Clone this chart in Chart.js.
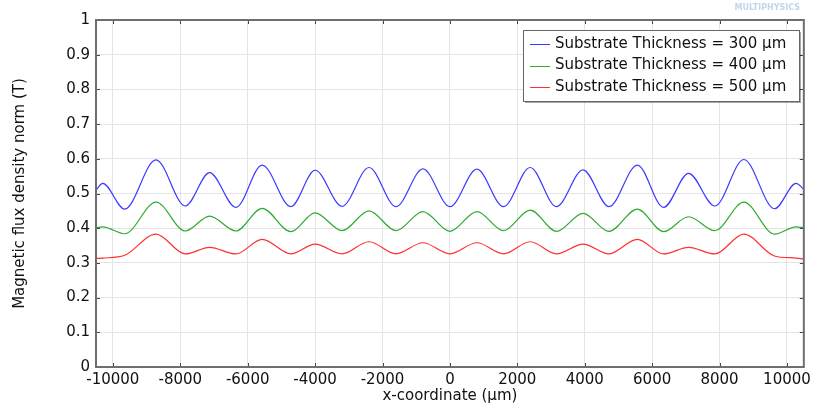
<!DOCTYPE html>
<html>
<head>
<meta charset="utf-8">
<script src="https://cdn.jsdelivr.net/npm/chart.js@4.4.1/dist/chart.umd.min.js"></script>
<style>
  html, body { margin: 0; padding: 0; background: #fff; }
  #wrap { width: 815px; height: 405px; }
</style>
</head>
<body>
<div id="wrap"><canvas id="flux"></canvas></div>
<script>
// x positions (µm) of the peaks and valleys along the line
const xCoords = [
  -10500, -10300, -9650, -8720, -7850, -7130, -6350, -5570, -4720, -4000,
  -3200, -2400, -1600, -800, 0, 800, 1590, 2380, 3160, 3950,
  4720, 5560, 6340, 7080, 7860, 8720, 9630, 10270, 10500
];
// |B| for 300 µm substrate
const flux300 = [
  0.510, 0.529, 0.455, 0.597, 0.464, 0.560, 0.460, 0.582, 0.462, 0.567,
  0.463, 0.575, 0.462, 0.571, 0.462, 0.570, 0.462, 0.575, 0.462, 0.568,
  0.462, 0.582, 0.460, 0.558, 0.464, 0.598, 0.456, 0.529, 0.512
];
// |B| for 400 µm substrate
const flux400 = [
  0.401, 0.404, 0.384, 0.475, 0.392, 0.435, 0.392, 0.457, 0.390, 0.444,
  0.393, 0.450, 0.393, 0.448, 0.391, 0.448, 0.393, 0.452, 0.391, 0.443,
  0.391, 0.455, 0.390, 0.433, 0.393, 0.475, 0.383, 0.404, 0.401
];
// |B| for 500 µm substrate
const flux500 = [
  0.313, 0.314, 0.322, 0.383, 0.326, 0.345, 0.326, 0.368, 0.326, 0.354,
  0.326, 0.361, 0.326, 0.358, 0.326, 0.358, 0.326, 0.361, 0.326, 0.354,
  0.326, 0.368, 0.326, 0.345, 0.326, 0.383, 0.320, 0.314, 0.311
];
const seriesLabels = [
  "Substrate Thickness = 300 µm",
  "Substrate Thickness = 400 µm",
  "Substrate Thickness = 500 µm"
];
const seriesColors = ["#3a3aff", "#30aa30", "#ff3030"];
const xTicks = [-10000, -8000, -6000, -4000, -2000, 0, 2000, 4000, 6000, 8000, 10000];
const yTicks = [0, 0.1, 0.2, 0.3, 0.4, 0.5, 0.6, 0.7, 0.8, 0.9, 1];

Chart.defaults.font.family = "'DejaVu Sans', sans-serif";
Chart.defaults.font.size = 15;
Chart.defaults.color = "#111";

function toPoints(values) {
  return values.map((v, i) => ({ x: xCoords[i], y: v }));
}

// frame, inward ticks, legend box and watermark
const framePlugin = {
  id: "frame",
  afterDraw(chart) {
    const ctx = chart.ctx;
    const a = chart.chartArea;
    const xs = chart.scales.x;
    const ys = chart.scales.y;
    ctx.save();

    // inward tick marks on all four sides
    ctx.strokeStyle = "#444";
    ctx.lineWidth = 1;
    ctx.beginPath();
    xTicks.forEach((t) => {
      const px = Math.round(xs.getPixelForValue(t)) + 0.5;
      ctx.moveTo(px, a.bottom); ctx.lineTo(px, a.bottom - 4);
      ctx.moveTo(px, a.top); ctx.lineTo(px, a.top + 4);
    });
    yTicks.forEach((t) => {
      const py = Math.round(ys.getPixelForValue(t)) + 0.5;
      ctx.moveTo(a.left, py); ctx.lineTo(a.left + 4, py);
      ctx.moveTo(a.right, py); ctx.lineTo(a.right - 4, py);
    });
    ctx.stroke();

    // plot frame
    ctx.strokeStyle = "#6e6e6e";
    ctx.lineWidth = 2;
    ctx.strokeRect(a.left, a.top, a.right - a.left, a.bottom - a.top);

    // legend box
    const bx = 523, by = 30, bw = 276, bh = 71;
    ctx.fillStyle = "rgba(0,0,0,0.35)";
    ctx.fillRect(bx + 2, by + 2, bw, bh);
    ctx.fillStyle = "#fff";
    ctx.fillRect(bx, by, bw, bh);
    ctx.strokeStyle = "#666";
    ctx.lineWidth = 1;
    ctx.strokeRect(bx + 0.5, by + 0.5, bw, bh);
    ctx.font = "15px 'DejaVu Sans'";
    ctx.textBaseline = "middle";
    ctx.textAlign = "left";
    chart.data.datasets.forEach((ds, i) => {
      const ry = by + 14 + i * 21.5;
      ctx.strokeStyle = ds.borderColor;
      ctx.beginPath();
      ctx.moveTo(bx + 7, Math.round(ry) + 0.5);
      ctx.lineTo(bx + 27, Math.round(ry) + 0.5);
      ctx.stroke();
      ctx.fillStyle = "#111";
      ctx.fillText(ds.label, bx + 32, ry);
    });

    // faint product mark in the corner
    ctx.fillStyle = "rgba(120,160,210,0.45)";
    ctx.font = "bold 8px 'DejaVu Sans'";
    ctx.textAlign = "right";
    ctx.fillText("MULTIPHYSICS", 800, 8);
    ctx.restore();
  }
};

new Chart(document.getElementById("flux"), {
  type: "line",
  data: {
    datasets: [flux300, flux400, flux500].map((vals, i) => ({
      label: seriesLabels[i],
      data: toPoints(vals),
      borderColor: seriesColors[i],
      borderWidth: 1.2,
      pointRadius: 0,
      fill: false,
      cubicInterpolationMode: "monotone"
    }))
  },
  options: {
    responsive: true,
    maintainAspectRatio: false,
    animation: false,
    layout: { padding: { left: 0, top: 20, right: 7, bottom: 0 } },
    plugins: {
      legend: { display: false },
      tooltip: { enabled: false }
    },
    scales: {
      x: {
        type: "linear",
        min: -10500,
        max: 10500,
        afterBuildTicks: (scale) => { scale.ticks = xTicks.map((v) => ({ value: v })); },
        afterFit: (scale) => { scale.height = 38; },
        grid: { color: "#e4e4e4", drawTicks: false },
        border: { display: false },
        ticks: { padding: 4, maxRotation: 0, autoSkip: false, callback: (v) => String(v) },
        title: { display: true, text: "x-coordinate (µm)", padding: { top: 0, bottom: 0 } }
      },
      y: {
        type: "linear",
        min: 0,
        max: 1,
        afterBuildTicks: (scale) => { scale.ticks = yTicks.map((v) => ({ value: v })); },
        afterFit: (scale) => { scale.width = 96; },
        grid: { color: "#e4e4e4", drawTicks: false },
        border: { display: false },
        ticks: { padding: 6, callback: (v) => String(v) },
        title: { display: true, text: "Magnetic flux density norm (T)", padding: { top: 11, bottom: 0 } }
      }
    }
  },
  plugins: [framePlugin]
});
</script>
</body>
</html>
